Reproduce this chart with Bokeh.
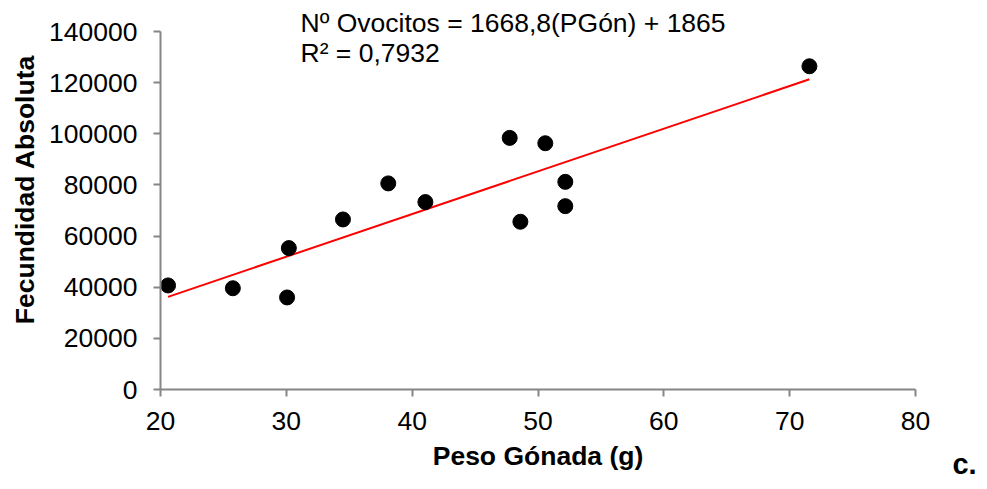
import math
from bokeh.plotting import figure
from bokeh.models import Label, FixedTicker, Range1d, NumeralTickFormatter
from bokeh.embed import file_html
from bokeh.resources import INLINE

# Data
peso_gonada = [20.6, 25.75, 30.06, 30.2, 34.5, 38.1, 41.05, 47.75, 48.6, 50.58, 52.17, 52.17, 71.57]
fecundidad = [40700, 39600, 36000, 55300, 66500, 80600, 73300, 98400, 65600, 96300, 81200, 71700, 126400]
slope = 1668.8
intercept = 1865
x_ticks = [20, 30, 40, 50, 60, 70, 80]
y_ticks = [0, 20000, 40000, 60000, 80000, 100000, 120000, 140000]
eq_text = "Nº Ovocitos = 1668,8(PGón) + 1865"
r2_text = "R² = 0,7932"
x_label = "Peso Gónada (g)"
y_label = "Fecundidad Absoluta"
panel_tag = "c."

FONT = "Liberation Sans"
FS = "26.5px"
AXIS_COLOR = "#868686"

# Layout (pixels): canvas size and where the plotting box sits inside it
W, H = 979, 481
BOX_L, BOX_R, BOX_T, BOX_B = 160, 915, 31, 389
XMIN, XMAX, YMIN, YMAX = 20, 80, 0, 140000

xs = (XMAX - XMIN) / (BOX_R - BOX_L)
ys = (YMAX - YMIN) / (BOX_B - BOX_T)
x_range = Range1d(XMIN - BOX_L * xs, XMAX + (W - BOX_R) * xs)
y_range = Range1d(YMIN - (H - BOX_B) * ys, YMAX + BOX_T * ys)

p = figure(width=W, height=H, output_backend="svg", toolbar_location=None,
           x_range=x_range, y_range=y_range,
           min_border_left=0, min_border_right=0, min_border_top=0, min_border_bottom=0)
p.outline_line_color = None
p.xgrid.visible = False
p.ygrid.visible = False
p.background_fill_color = "white"
p.border_fill_color = "white"

# trend line from regression equation
x0, x1 = min(peso_gonada), max(peso_gonada)
p.line([x0, x1], [slope * x0 + intercept, slope * x1 + intercept], line_color="#ff0000", line_width=2)

p.scatter(peso_gonada, fecundidad, size=15, color="black")

for ax in (p.xaxis[0], p.yaxis[0]):
    ax.axis_line_color = AXIS_COLOR
    ax.axis_line_width = 2
    ax.major_tick_line_color = AXIS_COLOR
    ax.major_tick_line_width = 2
    ax.major_tick_out = 7
    ax.major_tick_in = 0
    ax.minor_tick_line_color = None
    ax.major_label_text_font = FONT
    ax.major_label_text_font_size = FS
    ax.major_label_text_color = "black"
    ax.formatter = NumeralTickFormatter(format="0")

p.xaxis.fixed_location = YMIN
p.yaxis.fixed_location = XMIN
p.xaxis.bounds = (XMIN, XMAX)
p.yaxis.bounds = (YMIN, YMAX)
p.xaxis.ticker = FixedTicker(ticks=x_ticks)
p.yaxis.ticker = FixedTicker(ticks=y_ticks)
p.xaxis.major_label_standoff = 15
p.yaxis.major_label_standoff = 16

p.xaxis.axis_label = x_label
p.xaxis.axis_label_text_font = FONT
p.xaxis.axis_label_text_font_size = FS
p.xaxis.axis_label_text_font_style = "bold"
p.xaxis.axis_label_text_color = "black"
p.xaxis.axis_label_standoff = 8

# y-axis title (offset upward as in reference)
p.add_layout(Label(x=24, y=H - 189, x_units="screen", y_units="screen", text=y_label,
                   angle=math.pi / 2, text_align="center", text_baseline="middle",
                   text_font=FONT, text_font_size=FS, text_font_style="bold",
                   text_color="black"))

p.add_layout(Label(x=300, y=H - 22, x_units="screen", y_units="screen", text=eq_text,
                   text_align="left", text_baseline="middle",
                   text_font=FONT, text_font_size=FS, text_color="black"))
p.add_layout(Label(x=300, y=H - 52, x_units="screen", y_units="screen", text=r2_text,
                   text_align="left", text_baseline="middle",
                   text_font=FONT, text_font_size=FS, text_color="black"))

p.add_layout(Label(x=964, y=H - 463, x_units="screen", y_units="screen", text=panel_tag,
                   text_align="center", text_baseline="middle",
                   text_font=FONT, text_font_size="29px", text_font_style="bold",
                   text_color="black"))

open("out.html", "w").write(file_html(p, INLINE))
